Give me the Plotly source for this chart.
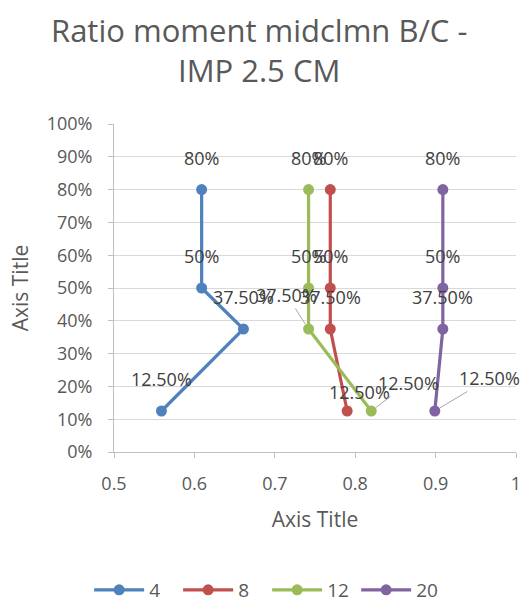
import plotly.graph_objects as go

# Depth ratios (y) shared by every series
depths = [0.125, 0.375, 0.50, 0.80]

# Moment ratio midcolumn B/C for each series
series_names = ["4", "8", "12", "20"]
ratio_4 = [0.559, 0.661, 0.609, 0.609]
ratio_8 = [0.790, 0.769, 0.769, 0.769]
ratio_12 = [0.820, 0.742, 0.742, 0.742]
ratio_20 = [0.899, 0.909, 0.909, 0.909]

title_lines = ["Ratio moment midclmn B/C -", "IMP 2.5 CM"]

colors = ["#4F81BD", "#C0504D", "#9BBB59", "#8064A2"]
FONT = "Open Sans, Lato, sans-serif"
GREY_TXT = "#595959"
LABEL_TXT = "#404040"

W, H = 529, 603
M_L, M_R, M_T, M_B = 114, 8, 124, 151
PLOT_W = W - M_L - M_R
PLOT_H = H - M_T - M_B


def pct_label(v):
    p = v * 100
    return f"{p:.0f}%" if abs(p - round(p)) < 1e-9 else f"{p:.2f}%"


# Label offsets (px) for labels moved off their default "above" spot
moved = {
    ("12", 1): (-22, -34),
    ("8", 0): (12, -19),
    ("12", 0): (37, -28),
    ("20", 0): (55, -33),
}

fig = go.Figure()
all_ratios = [ratio_4, ratio_8, ratio_12, ratio_20]
annotations = []
for name, xs, c in zip(series_names, all_ratios, colors):
    fig.add_trace(go.Scatter(
        x=xs, y=depths, name=name, mode="lines+markers",
        line=dict(color=c, width=3.2),
        marker=dict(color=c, size=11),
    ))
    for i, (xv, yv) in enumerate(zip(xs, depths)):
        txt = pct_label(yv)
        if (name, i) in moved:
            ax, ay = moved[(name, i)]
            annotations.append(dict(
                x=xv, y=yv, xref="x", yref="y", text=txt,
                showarrow=True, arrowhead=0, arrowwidth=1,
                arrowcolor="#A6A6A6", ax=ax, ay=ay, standoff=6,
                font=dict(family=FONT, size=18, color=LABEL_TXT),
            ))
        else:
            annotations.append(dict(
                x=xv, y=yv, xref="x", yref="y", text=txt,
                showarrow=False, yshift=32, yanchor="middle",
                font=dict(family=FONT, size=18, color=LABEL_TXT),
            ))

# Two-line chart title, each line centred at its own height (px from top)
for line, y_px in zip(title_lines, [30, 70]):
    annotations.append(dict(
        x=(261 - M_L) / PLOT_W, xref="paper",
        y=1 + (M_T - y_px) / PLOT_H, yref="paper",
        text=line, showarrow=False,
        xanchor="center", yanchor="middle",
        font=dict(family=FONT, size=31, color=GREY_TXT),
    ))

fig.update_layout(
    width=W, height=H,
    margin=dict(l=M_L, r=M_R, t=M_T, b=M_B),
    paper_bgcolor="white", plot_bgcolor="white",
    font=dict(family=FONT, color=GREY_TXT),
    xaxis=dict(
        range=[0.5, 1.0], dtick=0.1, tick0=0.5,
        showgrid=False, zeroline=False,
        showline=True, linecolor="#BFBFBF", linewidth=1,
        ticks="outside", ticklen=5, tickcolor="#BFBFBF",
        ticklabelstandoff=10,
        tickfont=dict(family=FONT, size=18, color=GREY_TXT),
        title=dict(text="Axis Title", font=dict(family=FONT, size=21, color=GREY_TXT), standoff=18),
    ),
    yaxis=dict(
        range=[0, 1.0], dtick=0.1, tickformat=".0%",
        showgrid=True, gridcolor="#D9D9D9", gridwidth=1, zeroline=False,
        showline=True, linecolor="#BFBFBF", linewidth=1,
        ticks="outside", ticklen=5, tickcolor="#BFBFBF",
        ticklabelstandoff=12,
        tickfont=dict(family=FONT, size=18, color=GREY_TXT),
        title=dict(text="Axis Title", font=dict(family=FONT, size=21, color=GREY_TXT), standoff=12),
    ),
    legend=dict(
        orientation="h", xref="container", yref="container",
        x=0.505, xanchor="center", y=1 - 590 / 603, yanchor="middle",
        font=dict(family=FONT, size=19, color=GREY_TXT),
        itemwidth=50, entrywidth=24, entrywidthmode="pixels",
    ),
    annotations=annotations,
    showlegend=True,
)

fig.write_html("out.html")
